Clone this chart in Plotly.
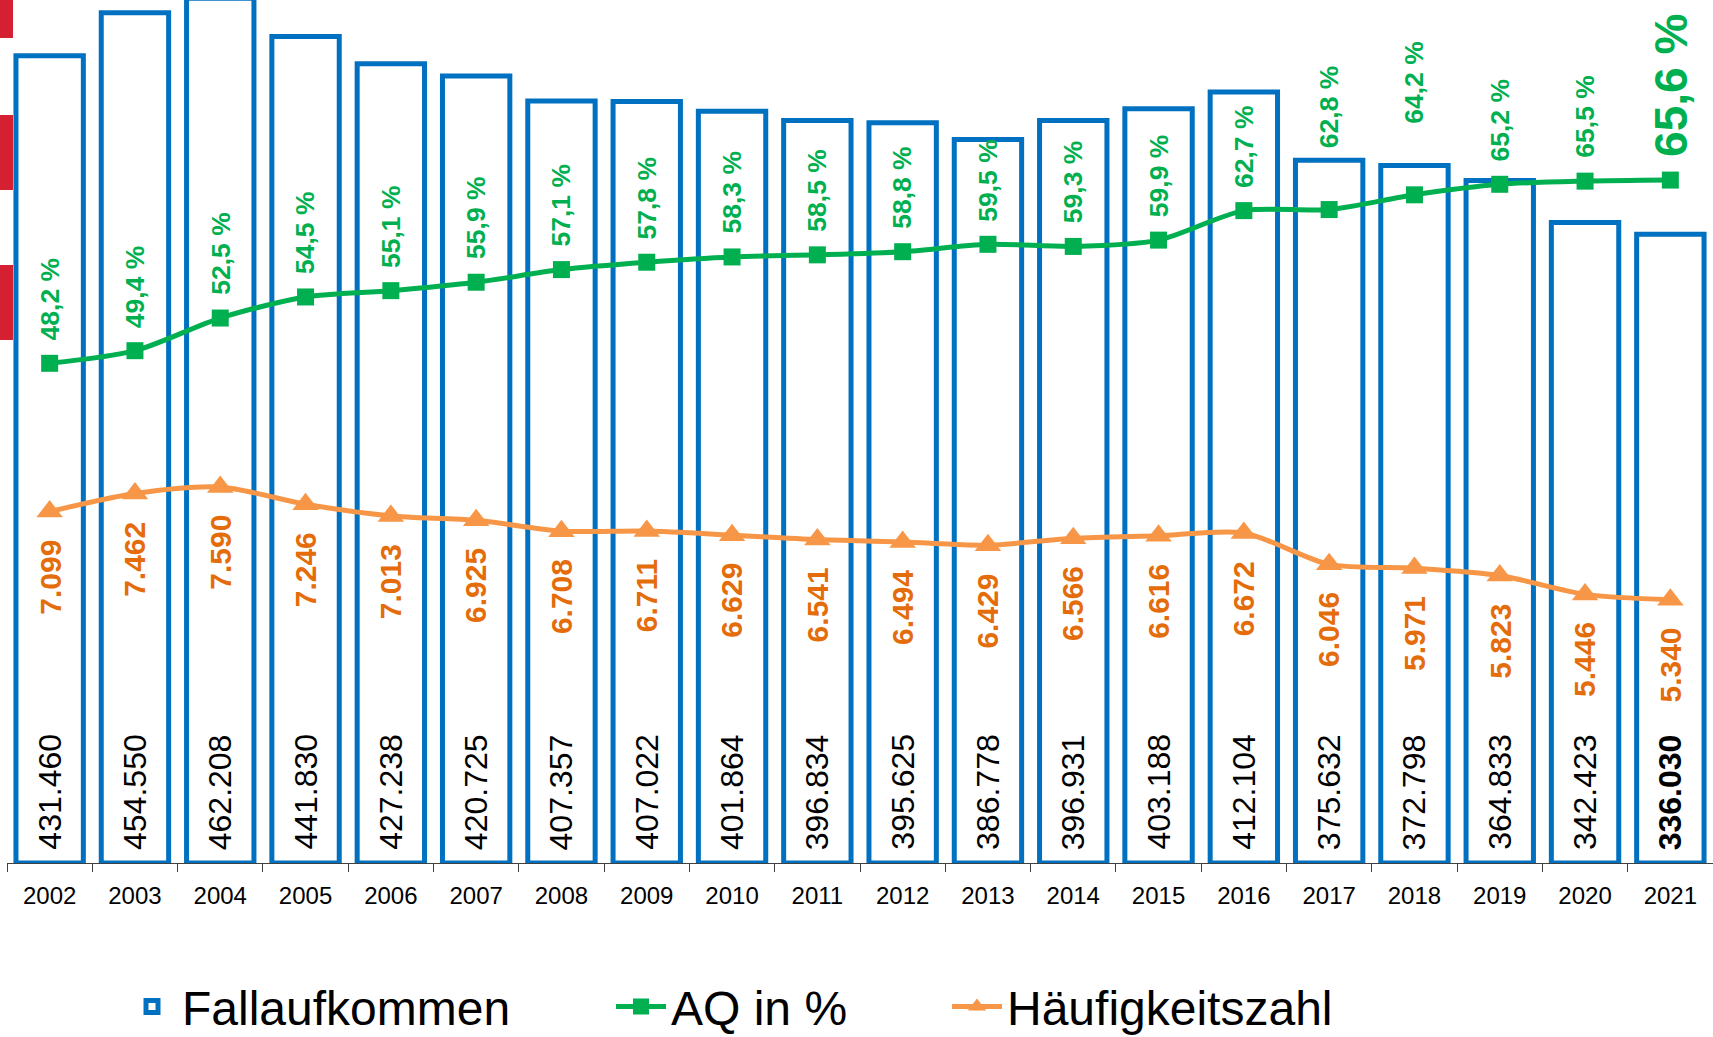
import plotly.graph_objects as go

years = ["2002", "2003", "2004", "2005", "2006", "2007", "2008", "2009", "2010", "2011",
         "2012", "2013", "2014", "2015", "2016", "2017", "2018", "2019", "2020", "2021"]
fallaufkommen = [431460, 454550, 462208, 441830, 427238, 420725, 407357, 407022, 401864, 396834,
                 395625, 386778, 396931, 403188, 412104, 375632, 372798, 364833, 342423, 336030]
aq = [48.2, 49.4, 52.5, 54.5, 55.1, 55.9, 57.1, 57.8, 58.3, 58.5,
      58.8, 59.5, 59.3, 59.9, 62.7, 62.8, 64.2, 65.2, 65.5, 65.6]
hz = [7099, 7462, 7590, 7246, 7013, 6925, 6708, 6711, 6629, 6541,
      6494, 6429, 6566, 6616, 6672, 6046, 5971, 5823, 5446, 5340]

BLUE = "#0070C0"
GREEN = "#00B050"
ORANGE_LINE = "#F79646"
ORANGE_TXT = "#E46C0A"
RED = "#D42030"
FONT = "Liberation Sans, Arial, sans-serif"

W, H = 1713, 1037
ML, MB = 7, 174
PW, PH = W - ML, H - MB


def de_int(v):
    return f"{v:,}".replace(",", ".")


def de_pct(v):
    return f"{v:.1f} %".replace(".", ",")


fig = go.Figure()

fig.add_trace(go.Bar(
    x=years, y=fallaufkommen, name="Fallaufkommen",
    marker=dict(color="white", line=dict(color=BLUE, width=5)),
    legend="legend", yaxis="y",
))

fig.add_trace(go.Scatter(
    x=years, y=aq, name="AQ in %", yaxis="y2", mode="lines+markers",
    line=dict(color=GREEN, width=5, shape="spline", smoothing=0.8),
    marker=dict(symbol="square", size=17, color=GREEN),
    legend="legend2",
))

fig.add_trace(go.Scatter(
    x=years, y=hz, name="Häufigkeitszahl", yaxis="y3", mode="lines+markers",
    line=dict(color=ORANGE_LINE, width=5, shape="spline", smoothing=0.8),
    marker=dict(symbol="triangle-up", size=23, color=ORANGE_LINE),
    legend="legend3",
))

# rotated value labels (x given as category index)
annotations = []
for i, v in enumerate(fallaufkommen):
    last = i == len(years) - 1
    txt = de_int(v)
    annotations.append(dict(
        x=i, y=0, xref="x", yref="y", text=f"<b>{txt}</b>" if last else txt,
        textangle=-90, showarrow=False, xanchor="center", yanchor="bottom",
        yshift=11, font=dict(family=FONT, size=32, color="black"),
    ))

green_extra = {"2017": 38, "2018": 48}
for i, (yr, v) in enumerate(zip(years, aq)):
    last = i == len(years) - 1
    annotations.append(dict(
        x=i, y=v, xref="x", yref="y2", text="<b>" + de_pct(v) + "</b>",
        textangle=-90, showarrow=False, xanchor="center", yanchor="bottom",
        yshift=21 + green_extra.get(yr, 0),
        font=dict(family=FONT, size=46 if last else 26.5, color=GREEN),
    ))
for i, v in enumerate(hz):
    annotations.append(dict(
        x=i, y=v, xref="x", yref="y3", text="<b>" + de_int(v) + "</b>",
        textangle=-90, showarrow=False, xanchor="center", yanchor="top",
        yshift=-26,
        font=dict(family=FONT, size=30, color=ORANGE_TXT),
    ))

# red marks at the left edge (pixel bands)
red_bands = [(0, 38), (115, 190), (265, 340)]
shapes = []
for top, bot in red_bands:
    shapes.append(dict(
        type="rect", xref="paper", yref="paper",
        x0=-ML / PW, x1=(13 - ML) / PW, y0=1 - bot / PH, y1=1 - top / PH,
        fillcolor=RED, line=dict(width=0), layer="above",
    ))


def legend_at(px):
    return dict(x=(px - ML) / PW, xanchor="left", y=-0.1665, yanchor="middle",
                orientation="h", bgcolor="rgba(0,0,0,0)", itemwidth=50,
                font=dict(family=FONT, size=48, color="black"))


fig.update_layout(
    width=W, height=H,
    margin=dict(l=ML, r=0, t=0, b=MB, pad=0, autoexpand=False),
    paper_bgcolor="white", plot_bgcolor="white",
    bargap=0.21,
    showlegend=True,
    legend=legend_at(122),
    legend2=legend_at(611),
    legend3=legend_at(947),
    xaxis=dict(type="category", range=[-0.5, len(years) - 0.5], autorange=False,
               showline=True, linecolor="#404040", linewidth=1,
               ticks="outside", tickson="boundaries", ticklen=8, tickcolor="#404040",
               tickangle=0, showgrid=False, ticklabelstandoff=11,
               tickfont=dict(family=FONT, size=24, color="black")),
    yaxis=dict(range=[0, 461300], visible=False),
    yaxis2=dict(range=[0.75, 82.7], overlaying="y", visible=False),
    yaxis3=dict(range=[83, 17313], overlaying="y", visible=False),
    annotations=annotations,
    shapes=shapes,
)

fig.write_html("out.html", config={"displayModeBar": False},
               post_script="document.body.style.margin='0';")
